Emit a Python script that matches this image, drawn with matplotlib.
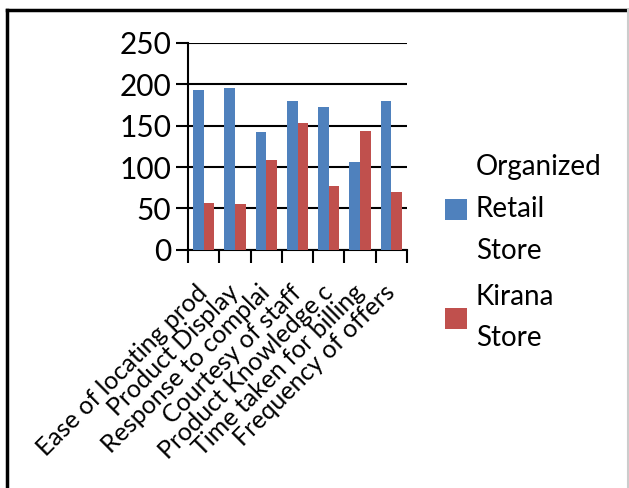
import matplotlib
matplotlib.use("Agg")
import matplotlib.pyplot as plt
from matplotlib.lines import Line2D
import numpy as np

categories = ["Ease of locating prod", "Product Display", "Response to complai",
              "Courtesy of staff", "Product Knowledge c", "Time taken for billing",
              "Frequency of offers"]
organized = [193, 195, 142, 180, 173, 106, 180]
kirana = [57, 55, 108, 153, 77, 144, 70]
series_names = ["Organized\nRetail\nStore", "Kirana\nStore"]
yticks = [0, 50, 100, 150, 200, 250]

plt.rcParams['font.family'] = ['Lato', 'DejaVu Sans']

fig = plt.figure(figsize=(6.29, 4.88), dpi=100)
ax = fig.add_axes([0.299, 0.488, 0.348, 0.424])

x = np.arange(len(categories))
w = 0.34
b1 = ax.bar(x - w / 2, organized, w, color="#4F81BD", label=series_names[0], zorder=3)
b2 = ax.bar(x + w / 2, kirana, w, color="#C0504D", label=series_names[1], zorder=3)

ax.set_xlim(-0.5, len(categories) - 0.5)
ax.set_ylim(0, 250)
ax.set_yticks(yticks)
ax.set_yticklabels([str(v) for v in yticks], fontsize=21.5)
ax.yaxis.grid(True, color="black", linewidth=1.5, zorder=0)
ax.set_axisbelow(True)

# labels at the group centers, tick marks on the group boundaries
ax.set_xticks(x)
ax.set_xticklabels(categories, rotation=45, ha="right", va="center",
                   rotation_mode="anchor", fontsize=18)
ax.set_xticks(np.arange(len(categories) + 1) - 0.5, minor=True)
ax.tick_params(axis="x", which="major", length=0, pad=28)
ax.tick_params(axis="x", which="minor", length=9, width=1.5, color="black", direction="out")
ax.tick_params(axis="y", length=9, width=1.5, color="black", pad=3)

for s in ["top", "right"]:
    ax.spines[s].set_visible(False)
for s in ["left", "bottom"]:
    ax.spines[s].set_linewidth(1.5)
    ax.spines[s].set_color("black")

leg = fig.legend(handles=[b1, b2], labels=series_names, loc="center left",
                 bbox_to_anchor=(0.668, 0.482), frameon=False, fontsize=20,
                 handlelength=0.8, handleheight=0.8, handletextpad=0.3,
                 labelspacing=0.72)
for t in leg.get_texts():
    t.set_linespacing(1.75)

# outer frame
fig.add_artist(Line2D([0.0119, 1.0], [0.9805, 0.9805], color="black", linewidth=2.5,
                      transform=fig.transFigure))
fig.add_artist(Line2D([0.0119, 0.0119], [0.0, 0.9805], color="black", linewidth=2.5,
                      transform=fig.transFigure))
fig.add_artist(Line2D([0.998, 0.998], [0.0, 0.9805], color="#cccccc", linewidth=1.5,
                      transform=fig.transFigure))

fig.savefig("out.png", dpi=100)
plt.close(fig)
